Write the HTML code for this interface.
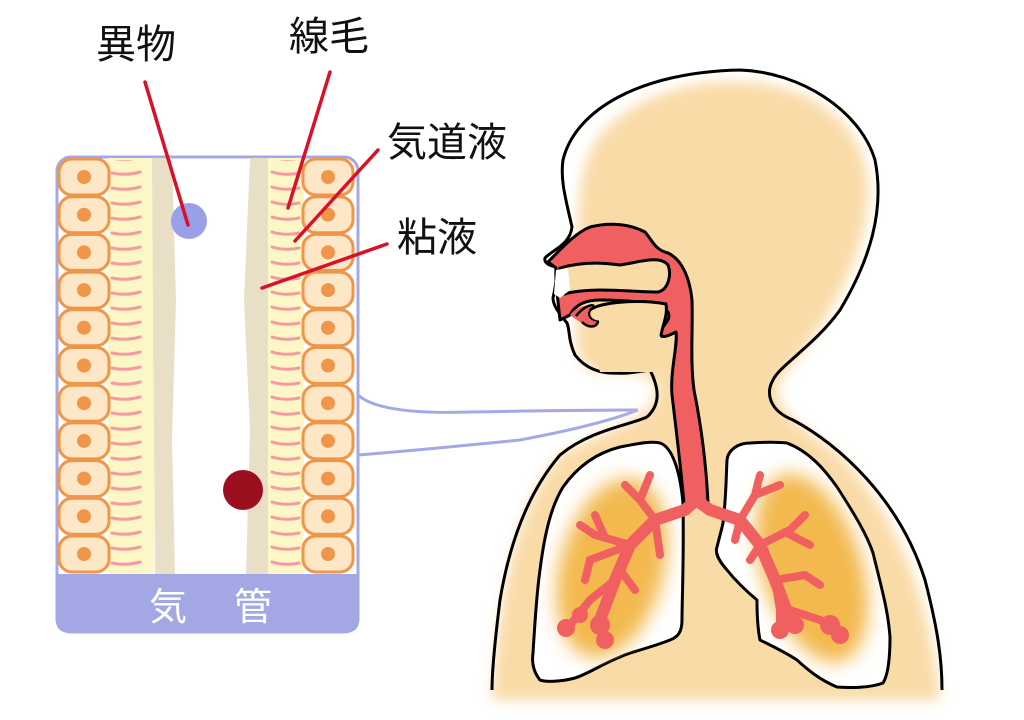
<!DOCTYPE html>
<html><head><meta charset="utf-8"><style>
html,body{margin:0;padding:0;background:#fff;}
svg{display:block;}
text{font-family:"Liberation Sans","Noto Sans CJK JP",sans-serif;}
</style></head><body>
<svg width="1024" height="720" viewBox="0 0 1024 720" xmlns="http://www.w3.org/2000/svg">
<defs>
<pattern id="cil" x="0" y="167" width="1024" height="15" patternUnits="userSpaceOnUse">
<path d="M112 6 Q126 9 140 5" stroke="#f59aa0" stroke-width="3" fill="none" stroke-linecap="round"/>
<path d="M272 5 Q285 9 299 6" stroke="#f59aa0" stroke-width="3" fill="none" stroke-linecap="round"/>
</pattern>
<g id="cell">
<rect x="0" y="0" width="50" height="36" rx="13" fill="#fde7c6" stroke="#f0964a" stroke-width="3"/>
<circle cx="25" cy="18" r="7" fill="#f0964a"/>
</g>
<filter id="blur" x="-20%" y="-20%" width="140%" height="140%"><feGaussianBlur stdDeviation="6"/></filter>
<filter id="blur2" x="-30%" y="-30%" width="160%" height="160%"><feGaussianBlur stdDeviation="9"/></filter>
<clipPath id="lungL"><path d="M660 443 C672 447 680 470 683 503 C684 560 682 600 682 620 C682 632 678 637 670 640 C650 648 630 652 620 657 C600 665 590 673 575 678 C560 682 545 682 540 680 C532 670 532 660 533 653 C535 620 537 590 540 570 C545 530 552 505 563 487 C580 463 600 452 620 447 C640 443 652 441 660 443 Z"/></clipPath>
<clipPath id="lungR"><path d="M727 460 C728 450 738 443 750 443 C765 442 778 442 787 443 C810 452 825 470 837 487 C855 515 867 535 873 553 C882 590 888 610 890 637 C890 660 888 675 883 683 C870 688 850 688 837 687 C820 680 808 670 797 660 C785 652 770 645 760 640 C757 625 757 610 757 600 C745 590 735 580 727 570 C718 560 715 552 717 547 C720 535 722 528 723 523 C726 500 726 480 727 460 Z"/></clipPath>
</defs>

<!-- Trachea panel -->
<rect x="57" y="157" width="301" height="475" rx="14" fill="#fff" stroke="#a4a8e6" stroke-width="3"/>
<rect x="108" y="158" width="46" height="416" fill="#fdf6c6"/>
<rect x="268" y="158" width="36" height="416" fill="#fdf6c6"/>
<rect x="108" y="160" width="196" height="412" fill="url(#cil)"/>
<path d="M152 158 L172 158 L176 300 L172 440 L175 574 L155 574 Z" fill="#e8dfc6"/>
<path d="M250 158 L268 158 L268 574 L246 574 L250 430 L244 300 Z" fill="#e8dfc6"/>
<use href="#cell" x="59" y="159"/><use href="#cell" x="59" y="196.7"/><use href="#cell" x="59" y="234.4"/>
<use href="#cell" x="59" y="272.1"/><use href="#cell" x="59" y="309.8"/><use href="#cell" x="59" y="347.5"/>
<use href="#cell" x="59" y="385.2"/><use href="#cell" x="59" y="422.9"/><use href="#cell" x="59" y="460.6"/>
<use href="#cell" x="59" y="498.3"/><use href="#cell" x="59" y="536"/>
<use href="#cell" x="303" y="159"/><use href="#cell" x="303" y="196.7"/><use href="#cell" x="303" y="234.4"/>
<use href="#cell" x="303" y="272.1"/><use href="#cell" x="303" y="309.8"/><use href="#cell" x="303" y="347.5"/>
<use href="#cell" x="303" y="385.2"/><use href="#cell" x="303" y="422.9"/><use href="#cell" x="303" y="460.6"/>
<use href="#cell" x="303" y="498.3"/><use href="#cell" x="303" y="536"/>
<path d="M55.5 574 H359.5 V618 Q359.5 633 345 633 H70 Q55.5 633 55.5 618 Z" fill="#a3a7e3"/>
<text x="149" y="620" font-size="38" fill="#fff">気</text>
<text x="234" y="620" font-size="38" fill="#fff">管</text>
<circle cx="189" cy="221" r="18" fill="#9aa0e8"/>
<circle cx="243" cy="490" r="20" fill="#9b0f1e"/>

<!-- connectors -->
<path d="M358 395 Q380 415 470 412 Q580 410 638 410" stroke="#a4a8e6" stroke-width="3" fill="none"/>
<path d="M358 455 Q420 450 520 440 Q600 425 638 410" stroke="#a4a8e6" stroke-width="3" fill="none"/>

<!-- labels -->
<text x="96" y="58" font-size="40" fill="#111">異物</text>
<text x="289" y="50" font-size="40" fill="#111">線毛</text>
<text x="387" y="156" font-size="40" fill="#111">気道液</text>
<text x="397" y="251" font-size="40" fill="#111">粘液</text>
<g stroke="#d8102a" stroke-width="3.5" stroke-linecap="round">
<line x1="145" y1="82" x2="188" y2="225"/>
<line x1="330" y1="72" x2="288" y2="208"/>
<line x1="378" y1="150" x2="295" y2="241"/>
<line x1="387" y1="244" x2="262" y2="288"/>
</g>

<!-- body fill -->
<path filter="url(#blur)" fill="#f9dba8" d="M740 82 C820 84 872 130 868 200 C864 260 830 320 780 380 C770 400 790 420 840 455 C900 520 930 600 940 700 L492 700 C500 580 520 500 560 455 C600 432 650 420 655 395 C660 375 640 372 600 372 C575 368 575 345 578 320 L572 300 L578 265 C580 240 572 170 600 135 C640 90 700 80 740 82 Z"/>
<!-- body outline -->
<path fill="none" stroke="#000" stroke-width="3" stroke-linejoin="round" d="M647 417 C660 405 660 390 650 370 C635 372 625 374 617 373 C600 374 585 368 575 355 C568 340 570 330 567 323 C558 312 553 305 553 298 C556 285 557 275 557 267 C548 266 544 262 545 258 C552 250 570 245 572 227 C566 200 560 180 563 160 C575 110 640 72 740 70 C800 72 860 110 875 160 C885 210 870 260 840 310 C815 345 780 365 773 380 C766 392 768 410 793 420 C840 445 900 500 925 580 C938 630 942 660 942 690"/>
<path fill="none" stroke="#000" stroke-width="3" d="M647 417 C630 425 590 430 560 455 C530 490 510 540 500 600 C495 640 492 670 492 690"/>

<!-- lungs -->
<g stroke="#000" stroke-width="3" fill="#fff" stroke-linejoin="round">
<path d="M660 443 C672 447 680 470 683 503 C684 560 682 600 682 620 C682 632 678 637 670 640 C650 648 630 652 620 657 C600 665 590 673 575 678 C560 682 545 682 540 680 C532 670 532 660 533 653 C535 620 537 590 540 570 C545 530 552 505 563 487 C580 463 600 452 620 447 C640 443 652 441 660 443 Z"/>
<path d="M727 460 C728 450 738 443 750 443 C765 442 778 442 787 443 C810 452 825 470 837 487 C855 515 867 535 873 553 C882 590 888 610 890 637 C890 660 888 675 883 683 C870 688 850 688 837 687 C820 680 808 670 797 660 C785 652 770 645 760 640 C757 625 757 610 757 600 C745 590 735 580 727 570 C718 560 715 552 717 547 C720 535 722 528 723 523 C726 500 726 480 727 460 Z"/>
</g>
<g clip-path="url(#lungL)"><ellipse cx="612" cy="568" rx="52" ry="92" fill="#f3b950" filter="url(#blur2)" transform="rotate(15 612 568)"/></g>
<g clip-path="url(#lungR)"><ellipse cx="812" cy="568" rx="50" ry="98" fill="#f3b950" filter="url(#blur2)" transform="rotate(-18 812 568)"/></g>

<!-- airway red -->
<path fill="#f06060" stroke="#000" stroke-width="3" stroke-linejoin="round" d="M548 262 C560 250 575 233 590 227 C610 222 630 224 645 232 C652 240 655 250 668 253 C683 260 690 280 692 300 C693 330 690 360 694 390 C700 420 706 460 708 503 L684 503 C680 460 675 420 672 395 C670 370 678 345 676 332 C670 335 660 340 660 333 C662 325 672 320 668 312 C660 303 630 300 600 300 C585 300 575 305 570 315 L560 320 C558 300 555 280 556 268 Z"/>
<path fill="#f9dba8" stroke="#000" stroke-width="3" d="M560 268 C580 262 600 262 620 265 C640 262 660 255 668 265 C672 275 668 290 658 292 C640 292 620 290 600 290 C585 290 570 292 565 294 C560 285 558 275 560 268 Z"/>
<path fill="#fff" d="M556 270 L568 268 L570 290 L560 298 L554 294 Z"/>
<path fill="#f9dba8" d="M590 310 C600 302 640 300 666 304 C668 316 662 326 660 336 L655 372 L600 372 L590 330 Z"/>
<path fill="none" stroke="#000" stroke-width="3" stroke-linejoin="round" d="M599 322 C592 322 586 316 590 310 C600 302 640 299 666 304 C668 316 662 326 661 336"/>
<path fill="#f06060" d="M570 315 C575 308 585 304 592 306 C586 312 586 320 598 322 C596 328 588 328 580 322 Z"/>
<path fill="none" stroke="#000" stroke-width="2.5" d="M576 316 C584 306 592 304 594 306 M598 322 C596 328 588 328 582 322"/>

<!-- bronchi -->
<g stroke="#f06060" stroke-linecap="round" fill="none">
<path d="M696 500 L685 510 L655 520 L630 545 L615 580 L600 620" stroke-width="12"/>
<path d="M696 500 L710 510 L740 520 L760 545 L775 580 L790 620" stroke-width="12"/>
<g stroke-width="8">
<path d="M655 520 L640 500 L625 485"/><path d="M640 500 L650 475"/><path d="M655 520 L660 555"/>
<path d="M630 545 L595 535 L580 525"/><path d="M605 538 L595 515"/><path d="M630 545 L590 560 L585 580"/>
<path d="M620 570 L635 590"/><path d="M615 580 L590 600 L570 625"/>
<path d="M740 520 L755 495 L760 475"/><path d="M755 495 L780 485"/><path d="M740 520 L735 540"/>
<path d="M760 545 L790 530 L805 515"/><path d="M785 532 L810 545"/><path d="M760 545 L750 560"/>
<path d="M775 580 L805 575 L820 585"/><path d="M775 580 L780 610 L780 630"/><path d="M790 610 L820 620 L840 630"/>
</g>
</g>
<g fill="#f06060">
<circle cx="566" cy="628" r="9"/><circle cx="580" cy="615" r="8"/><circle cx="600" cy="625" r="10"/><circle cx="605" cy="640" r="9"/>
<circle cx="780" cy="630" r="9"/><circle cx="795" cy="625" r="9"/><circle cx="830" cy="625" r="10"/><circle cx="840" cy="635" r="9"/>
</g>
</svg>
</body></html>
